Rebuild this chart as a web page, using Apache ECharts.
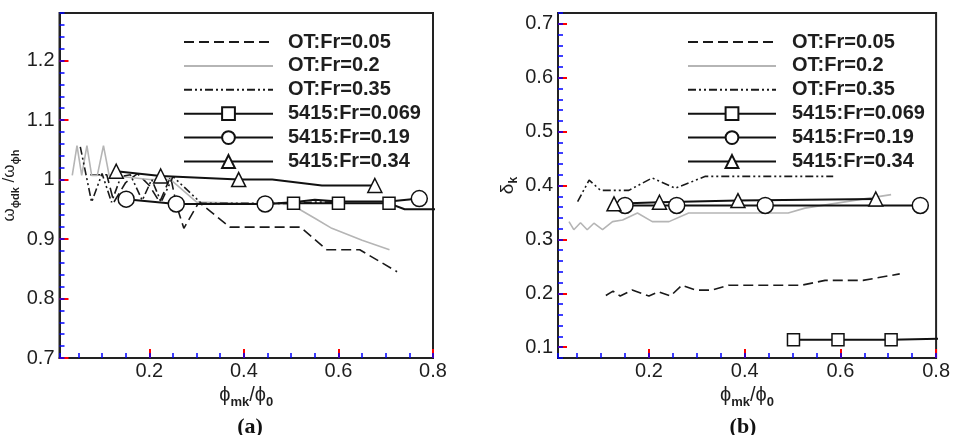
<!DOCTYPE html>
<html><head><meta charset="utf-8">
<script src="https://cdn.jsdelivr.net/npm/echarts@6/dist/echarts.min.js"></script>
<style>html,body{margin:0;padding:0;background:#fff}#c{width:953px;height:435px}</style>
</head><body><div id="c"></div>
<script>
// ---------- DATA ----------
const seriesNames = ['OT:Fr=0.05','OT:Fr=0.2','OT:Fr=0.35','5415:Fr=0.069','5415:Fr=0.19','5415:Fr=0.34'];
const xTickLabels = ['0.2','0.4','0.6','0.8'];
const yTickLabelsA = ['0.7','0.8','0.9','1','1.1','1.2'];
const yTickLabelsB = ['0.1','0.2','0.3','0.4','0.5','0.6','0.7'];

// Panel (a): omega ratio
const a_ot005_x = [0.075,0.11,0.125,0.15,0.175,0.2,0.222,0.245,0.258,0.273,0.305,0.37,0.52,0.575,0.645,0.724];
const a_ot005_y = [1.008,1.008,0.962,0.995,1.01,0.99,0.962,1.005,0.955,0.918,0.962,0.92,0.92,0.882,0.882,0.845];
const a_ot02_x = [0.037,0.047,0.057,0.068,0.078,0.09,0.103,0.115,0.14,0.2,0.245,0.30,0.5,0.55,0.586,0.65,0.708];
const a_ot02_y = [1.007,1.057,1.007,1.057,1.007,1.007,1.057,1.007,1.005,1.0,1.0,0.962,0.958,0.935,0.918,0.898,0.882];
const a_ot035_x = [0.054,0.078,0.10,0.12,0.14,0.16,0.185,0.205,0.225,0.25,0.31,0.5,0.55,0.6];
const a_ot035_y = [1.055,0.962,1.01,0.962,1.005,1.008,0.965,1.0,0.962,1.005,0.96,0.96,0.962,0.962];
const a_p069_x = [0.505,0.6,0.707,0.74,0.82];
const a_p069_y = [0.96,0.96,0.96,0.95,0.95];
const a_p069_marks = [0,1,2];
const a_p019_x = [0.151,0.257,0.445,0.505,0.55,0.6,0.707,0.771];
const a_p019_y = [0.967,0.959,0.959,0.962,0.966,0.963,0.963,0.968];
const a_p019_marks = [0,1,2,7];
const a_p034_x = [0.13,0.224,0.389,0.46,0.565,0.677];
const a_p034_y = [1.014,1.006,1.0,1.0,0.99,0.99];
const a_p034_marks = [0,1,2,5];

// Panel (b): delta_k
const b_ot005_x = [0.110,0.125,0.14,0.165,0.2,0.22,0.245,0.269,0.297,0.332,0.366,0.519,0.568,0.647,0.724];
const b_ot005_y = [0.196,0.204,0.195,0.206,0.195,0.203,0.195,0.215,0.206,0.206,0.215,0.215,0.224,0.224,0.236];
const b_ot02_x = [0.033,0.043,0.057,0.071,0.085,0.103,0.124,0.145,0.176,0.207,0.242,0.283,0.491,0.526,0.706];
const b_ot02_y = [0.333,0.318,0.331,0.318,0.330,0.318,0.333,0.336,0.349,0.333,0.333,0.349,0.349,0.358,0.383];
const b_ot035_x = [0.051,0.075,0.099,0.158,0.207,0.255,0.318,0.585];
const b_ot035_y = [0.370,0.410,0.391,0.391,0.414,0.395,0.417,0.417];
const b_p069_x = [0.502,0.595,0.706,0.82];
const b_p069_y = [0.114,0.114,0.114,0.116];
const b_p069_marks = [0,1,2];
const b_p019_x = [0.150,0.258,0.443,0.767];
const b_p019_y = [0.363,0.363,0.363,0.363];
const b_p019_marks = [0,1,2,3];
const b_p034_x = [0.127,0.222,0.386,0.674];
const b_p034_y = [0.366,0.369,0.372,0.375];
const b_p034_marks = [0,1,2,3];

// ---------- BUILD ----------
function pts(xs, ys, marks) {
  return xs.map((x, i) => {
    const v = [x, ys[i]];
    if (!marks) return v;
    return marks.includes(i) ? v : { value: v, symbol: 'none' };
  });
}
const FONT = "'Liberation Sans', Arial, sans-serif";
const SERIF = "'Liberation Serif', 'Times New Roman', serif";
function otStyle(k) {
  return [
    { color: '#1a1a1a', width: 1.6, type: [10, 5] },
    { color: '#b5b5b5', width: 1.6, type: 'solid' },
    { color: '#1a1a1a', width: 1.6, type: [8, 3, 2, 3, 2, 3] }
  ][k];
}
const symTypes = ['rect', 'circle', 'triangle'];
const symSizes = [12, 16, 14];

function makeSeries(g, ot, pp) {
  const out = [];
  ot.forEach((d, k) => out.push({
    name: seriesNames[k], type: 'line', xAxisIndex: g * 2, yAxisIndex: g * 2,
    data: pts(d[0], d[1]), showSymbol: false, symbol: 'circle',
    itemStyle: { opacity: 0, color: otStyle(k).color },
    lineStyle: otStyle(k), silent: true
  }));
  pp.forEach((d, k) => out.push({
    name: seriesNames[3 + k], type: 'line', xAxisIndex: g * 2, yAxisIndex: g * 2,
    data: pts(d[0], d[1], d[2]), symbol: symTypes[k], symbolSize: symSizes[k],
    itemStyle: { color: '#fff', borderColor: '#111', borderWidth: 1.5 },
    lineStyle: { color: '#111', width: 2 }, silent: true
  }));
  return out;
}

const series = [].concat(
  makeSeries(0,
    [[a_ot005_x, a_ot005_y], [a_ot02_x, a_ot02_y], [a_ot035_x, a_ot035_y]],
    [[a_p069_x, a_p069_y, a_p069_marks], [a_p019_x, a_p019_y, a_p019_marks], [a_p034_x, a_p034_y, a_p034_marks]]),
  makeSeries(1,
    [[b_ot005_x, b_ot005_y], [b_ot02_x, b_ot02_y], [b_ot035_x, b_ot035_y]],
    [[b_p069_x, b_p069_y, b_p069_marks], [b_p019_x, b_p019_y, b_p019_marks], [b_p034_x, b_p034_y, b_p034_marks]])
);

const txt = '#1e1e1e';
function majorTick() { return { show: true, inside: true, length: 9, lineStyle: { color: 'red', width: 2 } }; }
function minorTick() { return { show: true, inside: true, length: 5, lineStyle: { color: 'blue', width: 1.5 } }; }
function axLine() { return { show: true, lineStyle: { color: '#222', width: 2 } }; }
function fmt(list) { return v => { const s = list.find(t => Math.abs(parseFloat(t) - v) < 1e-6); return s || ''; }; }
function majorX(g) {
  return {
    gridIndex: g, type: 'value', min: 0.01, max: 0.8,
    axisLine: axLine(), axisTick: majorTick(),
    axisLabel: { showMinLabel: false, fontSize: 20, fontFamily: FONT, color: txt, margin: 3, formatter: fmt(xTickLabels) },
    splitLine: { show: false },
    name: '{a|ϕ}{s|mk}{a|/ϕ}{s|0}', nameLocation: 'middle', nameGap: 9,
    nameTextStyle: { rich: {
      a: { fontSize: 20, fontFamily: FONT, color: txt, lineHeight: 26, verticalAlign: 'middle' },
      s: { fontSize: 13, fontFamily: FONT, color: txt, fontWeight: 'bold', lineHeight: 26, verticalAlign: 'bottom' } } }
  };
}
function minorX(g) {
  return {
    gridIndex: g, type: 'value', min: 0.01, max: 0.8, splitNumber: 16, position: 'bottom',
    axisLine: { show: false }, axisLabel: { show: false }, splitLine: { show: false },
    axisTick: minorTick()
  };
}
const option = {
  animation: false,
  grid: [
    { left: 54, top: 13, width: 379, height: 345, show: true, borderColor: '#222', borderWidth: 2 },
    { left: 558, top: 13, width: 379, height: 345, show: true, borderColor: '#222', borderWidth: 2 }
  ],
  xAxis: [majorX(0), minorX(0), majorX(1), minorX(1)],
  yAxis: [
    { gridIndex: 0, type: 'value', min: 0.7, max: 1.28, interval: 0.1, position: 'left',
      axisLine: axLine(), axisTick: majorTick(),
      axisLabel: { showMaxLabel: false, fontSize: 20, fontFamily: FONT, color: txt, margin: 5, formatter: fmt(yTickLabelsA) },
      splitLine: { show: false },
      name: '{w|ω}{s|ϕdk}{w| /ω}{s|ϕh}', nameLocation: 'middle', nameRotate: 90, nameGap: 38,
      nameTextStyle: { rich: {
        w: { fontSize: 17, fontFamily: FONT, color: txt, lineHeight: 24, verticalAlign: 'middle' },
        s: { fontSize: 11, fontFamily: FONT, color: txt, fontWeight: 'bold', lineHeight: 24, verticalAlign: 'bottom' } } } },
    { gridIndex: 0, type: 'value', min: 0.7, max: 1.28, interval: 0.02, position: 'left',
      axisLine: { show: false }, axisLabel: { show: false }, splitLine: { show: false },
      axisTick: minorTick() },
    { gridIndex: 1, type: 'value', min: 0.08, max: 0.72, position: 'left',
      axisLine: axLine(), axisTick: majorTick(),
      axisLabel: { showMinLabel: false, showMaxLabel: false, fontSize: 20, fontFamily: FONT, color: txt, margin: 5, formatter: fmt(yTickLabelsB) },
      splitLine: { show: false },
      name: '{w|δ}{s|k}', nameLocation: 'middle', nameRotate: 90, nameGap: 38,
      nameTextStyle: { rich: {
        w: { fontSize: 19, fontFamily: FONT, color: txt, lineHeight: 24, verticalAlign: 'middle' },
        s: { fontSize: 12, fontFamily: FONT, color: txt, fontWeight: 'bold', lineHeight: 24, verticalAlign: 'bottom' } } } },
    { gridIndex: 1, type: 'value', min: 0.08, max: 0.72, interval: 0.02, position: 'left',
      axisLine: { show: false }, axisLabel: { show: false }, splitLine: { show: false },
      axisTick: minorTick() }
  ],
  legend: [
    { left: 178, top: 27, orient: 'vertical', itemWidth: 89, itemHeight: 16, itemGap: 3.9,
      selectedMode: false, data: seriesNames,
      textStyle: { fontSize: 20, fontWeight: 'bold', fontFamily: FONT, color: txt, lineHeight: 18, padding: [0, 0, 0, 10] } },
    { left: 682, top: 27, orient: 'vertical', itemWidth: 88, itemHeight: 16, itemGap: 3.9,
      selectedMode: false, data: seriesNames,
      textStyle: { fontSize: 20, fontWeight: 'bold', fontFamily: FONT, color: txt, lineHeight: 18, padding: [0, 0, 0, 11] } }
  ],
  title: [
    { text: '(a)', left: 245, top: 411, textAlign: 'center',
      textStyle: { fontFamily: SERIF, fontWeight: 'bold', fontSize: 22, color: '#111' } },
    { text: '(b)', left: 738, top: 411, textAlign: 'center',
      textStyle: { fontFamily: SERIF, fontWeight: 'bold', fontSize: 22, color: '#111' } }
  ],
  series: series
};
const chart = echarts.init(document.getElementById('c'));
chart.setOption(option);
</script>
</body></html>
